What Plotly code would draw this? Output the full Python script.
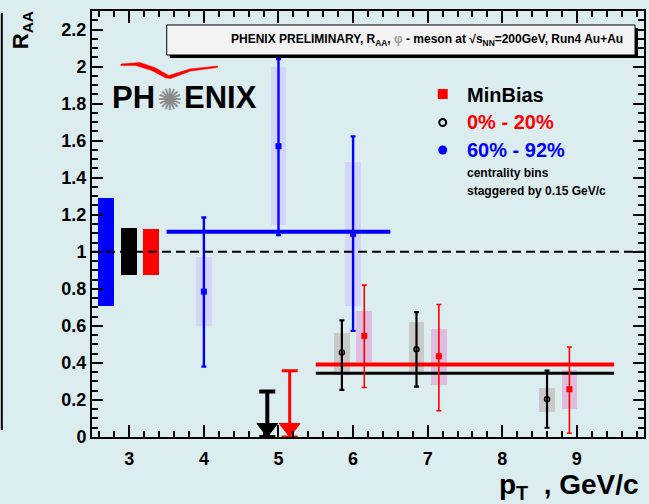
import plotly.graph_objects as go

# ---------------- data: phi-meson R_AA, Run4 Au+Au, sqrt(s_NN)=200 GeV ----------------

# 60% - 92% centrality (blue)
peri_pt = [4.0, 5.0, 6.0]
peri_raa = [0.785, 1.57, 1.097]
peri_stat_hi = [1.185, 2.04, 1.623]
peri_stat_lo = [0.38, 1.09, 0.573]
peri_sys_hi = [0.97, 1.996, 1.486]
peri_sys_lo = [0.60, 1.146, 0.71]

# 0% - 20% centrality (black open circles), staggered by -0.15 GeV/c
cent_pt = [5.85, 6.85, 8.6]
cent_raa = [0.456, 0.474, 0.204]
cent_stat_hi = [0.63, 0.674, 0.358]
cent_stat_lo = [0.254, 0.272, 0.05]
cent_sys_hi = [0.56, 0.62, 0.265]
cent_sys_lo = [0.335, 0.335, 0.137]

# MinBias (red squares), staggered by +0.15 GeV/c
mb_pt = [6.15, 7.15, 8.9]
mb_raa = [0.546, 0.436, 0.258]
mb_stat_hi = [0.82, 0.715, 0.486]
mb_stat_lo = [0.267, 0.142, 0.02]
mb_sys_hi = [0.68, 0.584, 0.362]
mb_sys_lo = [0.407, 0.283, 0.153]

# upper limits in the 5 GeV/c bin (0-20% and MinBias)
limit_pt = [4.85, 5.15]
limit_val = [0.245, 0.358]

# constant fits: level and pT range
fit_value = [1.108, 0.391, 0.344]
fit_lo = [3.5, 5.5, 5.5]
fit_hi = [6.5, 9.5, 9.5]

# global normalisation uncertainties drawn around R_AA = 1
norm_pos = [2.69, 3.0, 3.29]
norm_err = [0.29, 0.127, 0.125]

x_ticks = [3, 4, 5, 6, 7, 8, 9]

# ---------------- style ----------------
BG = "#dcedf0"
BLUE, RED, BLACK = "#0000ff", "#ff0000", "#000000"
BLUE_BOX, GRAY_BOX, PINK_BOX = "#d3d5fa", "#c9c9c9", "#dfbddf"
FONT = "Liberation Sans, Arial, sans-serif"

W, H = 649, 504
L, R, T, B = 92, 3, 11, 67
PW, PH = W - L - R, H - T - B
X_RANGE = [2.5, 9.9]
Y_RANGE = [0, 2.3]
BOX_W = 0.21


def px(x):
    return (x - L) / PW


def py(y):
    return (T + PH - y) / PH


fig = go.Figure()


def sys_boxes(xs, lo, hi, color):
    fig.add_trace(go.Bar(
        x=xs, y=[h - l for h, l in zip(hi, lo)], base=lo, width=BOX_W,
        marker=dict(color=color, line=dict(width=0)), showlegend=False,
        hoverinfo="skip"))


# normalisation boxes
fig.add_trace(go.Bar(
    x=norm_pos, y=[2 * e for e in norm_err], base=[1 - e for e in norm_err],
    width=BOX_W, marker=dict(color=[BLUE, BLACK, RED], line=dict(width=0)),
    showlegend=False, hoverinfo="skip"))

sys_boxes(peri_pt, peri_sys_lo, peri_sys_hi, BLUE_BOX)
sys_boxes(cent_pt, cent_sys_lo, cent_sys_hi, GRAY_BOX)
sys_boxes(mb_pt, mb_sys_lo, mb_sys_hi, PINK_BOX)

# constant fit lines
for v, a, b, c, w in zip(fit_value, fit_lo, fit_hi, [BLUE, RED, BLACK], [4, 4, 3]):
    fig.add_trace(go.Scatter(x=[a, b], y=[v, v], mode="lines",
                             line=dict(color=c, width=w), showlegend=False,
                             hoverinfo="skip"))


def points(xs, ys, hi, lo, color, symbol, size, thick, cap, mline=0):
    fig.add_trace(go.Scatter(
        x=xs, y=ys, mode="markers",
        marker=dict(symbol=symbol, size=size, color=color,
                    line=dict(color=color, width=mline)),
        error_y=dict(type="data", symmetric=False,
                     array=[h - y for h, y in zip(hi, ys)],
                     arrayminus=[y - l for y, l in zip(ys, lo)],
                     color=color, thickness=thick, width=cap),
        showlegend=False))


points(peri_pt, peri_raa, peri_stat_hi, peri_stat_lo, BLUE, "square", 6, 2.4, 2.5)
points(cent_pt, cent_raa, cent_stat_hi, cent_stat_lo, BLACK, "circle-open", 5, 2.2, 2.5, 1.5)
points(mb_pt, mb_raa, mb_stat_hi, mb_stat_lo, RED, "square", 6, 1.6, 2.5)

# upper limits: bar from the limit down to zero, arrowhead touching the axis
ARROW = 18
arrow_y = (ARROW / 2) * (Y_RANGE[1] - Y_RANGE[0]) / PH
for xv, yv, c, w in zip(limit_pt, limit_val, [BLACK, RED], [4, 3]):
    fig.add_trace(go.Scatter(
        x=[xv], y=[yv], mode="markers", marker=dict(size=1, color=c),
        error_y=dict(type="data", symmetric=False, array=[0], arrayminus=[yv],
                     color=c, thickness=w, width=8),
        showlegend=False, hoverinfo="skip"))
    fig.add_trace(go.Scatter(
        x=[xv], y=[arrow_y], mode="markers",
        marker=dict(symbol="triangle-down", size=ARROW, color=c,
                    line=dict(color=c, width=1)),
        showlegend=False, hoverinfo="skip"))

shapes = []
annotations = []

# R_AA = 1 reference
shapes.append(dict(type="line", xref="paper", yref="y", x0=0, x1=1, y0=1, y1=1,
                   line=dict(color=BLACK, width=2, dash="9px,5px"), layer="above"))

# frame line at the far left of the canvas
shapes.append(dict(type="line", xref="paper", yref="paper", x0=px(1.5), x1=px(1.5),
                   y0=py(13), y1=py(430), line=dict(color=BLACK, width=2)))

# header box with shadow
shapes.append(dict(type="rect", xref="paper", yref="paper", x0=px(170), x1=px(640),
                   y0=py(58), y1=py(28), fillcolor=BLACK, line=dict(width=0)))
shapes.append(dict(type="rect", xref="paper", yref="paper", x0=px(167), x1=px(637),
                   y0=py(55), y1=py(25), fillcolor="#f3f3f3",
                   line=dict(color=BLACK, width=1)))
annotations.append(dict(
    xref="paper", yref="paper", x=px(428), y=py(40), xanchor="center", yanchor="middle",
    showarrow=False,
    text="PHENIX PRELIMINARY, R<sub>AA</sub>, <span style='color:#999999'>φ</span>"
         " - meson at √s<sub>NN</sub>=200GeV, Run4 Au+Au",
    font=dict(family=FONT, size=12, color=BLACK, weight="bold")))

# legend
shapes.append(dict(type="rect", xref="paper", yref="paper", x0=px(439), x1=px(449),
                   y0=py(99), y1=py(89), fillcolor=RED, line=dict(width=0)))
shapes.append(dict(type="circle", xref="paper", yref="paper", x0=px(440.5), x1=px(447.5),
                   y0=py(126), y1=py(119), line=dict(color=BLACK, width=2)))
shapes.append(dict(type="circle", xref="paper", yref="paper", x0=px(439.5), x1=px(448.5),
                   y0=py(154.5), y1=py(145.5), fillcolor=BLUE, line=dict(width=0)))
for txt, yc, col, sz in [("MinBias", 95, BLACK, 20), ("0% - 20%", 122, RED, 20),
                         ("60% - 92%", 150, BLUE, 20),
                         ("centrality bins", 173, BLACK, 12),
                         ("staggered by 0.15 GeV/c", 191, BLACK, 12)]:
    annotations.append(dict(xref="paper", yref="paper", x=px(466), y=py(yc),
                            xanchor="left", yanchor="middle", showarrow=False,
                            text=txt, font=dict(family=FONT, size=sz, color=col,
                                                weight="bold")))

# PHENIX logo
annotations.append(dict(xref="paper", yref="paper", x=px(134), y=py(98),
                        xanchor="center", yanchor="middle", showarrow=False, text="PH",
                        font=dict(family=FONT, size=31, color=BLACK, weight="bold")))
annotations.append(dict(xref="paper", yref="paper", x=px(221), y=py(98),
                        xanchor="center", yanchor="middle", showarrow=False, text="ENIX",
                        font=dict(family=FONT, size=31, color=BLACK, weight="bold")))
annotations.append(dict(xref="paper", yref="paper", x=px(170), y=py(99),
                        xanchor="center", yanchor="middle", showarrow=False, text="✺",
                        font=dict(family="DejaVu Sans", size=30, color="#8a8a8a")))
swoosh = [(121, 64), (140, 62.5), (156, 68), (169, 75.5), (190, 69), (218, 66),
          (218, 67.5), (191, 71), (171, 78.5), (166, 78), (152, 70.5), (136, 65.5),
          (121, 65.5)]
path = "M " + " L ".join(f"{px(a):.4f},{py(b):.4f}" for a, b in swoosh) + " Z"
shapes.append(dict(type="path", xref="paper", yref="paper", path=path,
                   fillcolor=RED, line=dict(color=RED, width=0.5)))

# axis titles
annotations.append(dict(xref="paper", yref="paper", x=px(22), y=py(30),
                        xanchor="center", yanchor="middle", showarrow=False,
                        textangle=-90, text="R<sub>AA</sub>",
                        font=dict(family=FONT, size=22, color=BLACK, weight="bold")))
annotations.append(dict(xref="paper", yref="paper", x=px(643), y=py(487),
                        xanchor="right", yanchor="middle", showarrow=False,
                        text="p<sub>T</sub>  , GeV/c",
                        font=dict(family=FONT, size=28, color=BLACK, weight="bold")))

axis_common = dict(showline=True, linecolor=BLACK, linewidth=2, mirror="ticks",
                   ticks="inside", tickcolor=BLACK, showgrid=False, zeroline=False,
                   tickfont=dict(family=FONT, size=18, color=BLACK, weight="bold"))

fig.update_layout(
    width=W, height=H, margin=dict(l=L, r=R, t=T, b=B),
    paper_bgcolor=BG, plot_bgcolor=BG, barmode="overlay", bargap=0,
    showlegend=False, shapes=shapes, annotations=annotations,
    xaxis=dict(range=X_RANGE, tickvals=x_ticks, ticklen=12, tickwidth=2,
               ticklabelstandoff=4,
               minor=dict(dtick=0.2, tick0=0, ticklen=6, tickwidth=1.5,
                          ticks="inside", tickcolor=BLACK),
               **axis_common),
    yaxis=dict(range=Y_RANGE, dtick=0.2, tick0=0, ticklen=11, tickwidth=2,
               minor=dict(dtick=0.05, tick0=0, ticklen=6, tickwidth=1.5,
                          ticks="inside", tickcolor=BLACK),
               **axis_common),
)

fig.write_html("out.html")
